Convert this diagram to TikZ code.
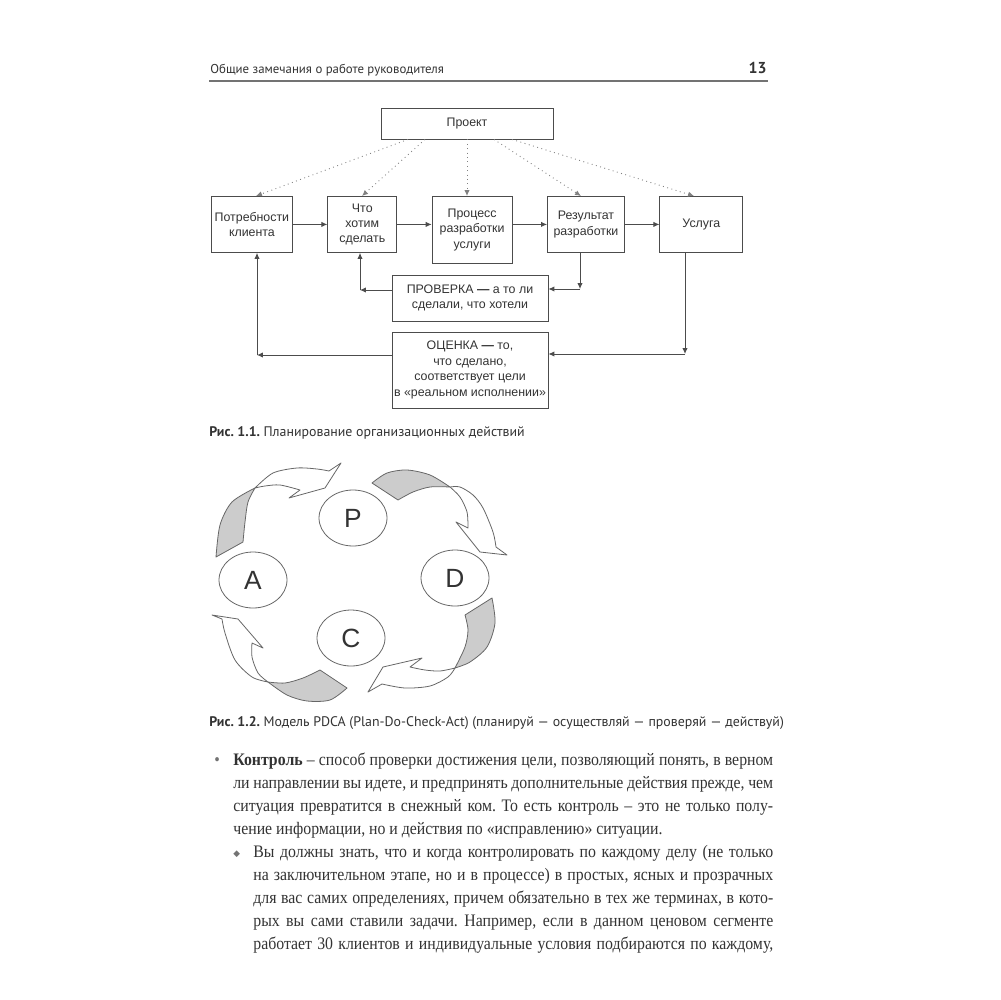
\documentclass[tikz,border=0pt]{standalone}
\usepackage{fontspec}
\setmainfont{Liberation Serif}[FakeStretch=0.9]
\newfontfamily\capfont{PT Sans}
\newfontfamily\diafont{Liberation Sans}
\newfontfamily\symfont{DejaVu Sans}
\usetikzlibrary{arrows.meta,positioning,shapes.geometric}
\definecolor{linegray}{gray}{0.3}
\definecolor{inkgray}{gray}{0.2}
\newlength\bodyw \setlength\bodyw{10.8cm}
\newlength\subw \setlength\subw{10.4cm}
\frenchspacing
\tikzset{
  box/.style={draw=linegray, line width=0.5pt, align=center, inner xsep=0.5pt, inner ysep=1pt, font=\diafont\fontsize{7.05}{8.8}\selectfont, text=inkgray},
  flow/.style={-{Latex[length=3.4pt,width=3pt]}, draw=linegray, line width=0.5pt},
  hint/.style={-{Latex[length=3.4pt,width=3pt]}, draw=black!50, dotted, line width=0.5pt},
  cyc/.style={ellipse, draw=black!60, line width=0.45pt, fill=white, minimum width=1.36cm, minimum height=1.12cm, inner sep=0, font=\diafont\fontsize{15}{15}\selectfont, text=inkgray},
  twistback/.style={draw=black!60, line width=0.45pt, fill=black!20, line join=round},
  twistfront/.style={draw=black!60, line width=0.45pt, fill=white, line join=round},
  capline/.style={anchor=base west, inner sep=0, font=\capfont\fontsize{7.9}{10}\selectfont, text=inkgray},
  bodyline/.style={anchor=base west, inner sep=0, font=\fontsize{10}{12}\selectfont, text=inkgray}
}
\begin{document}
\begin{tikzpicture}[x=0.02cm, y=-0.02cm]
\fill[white] (0,0) rectangle (1000,1000);
\useasboundingbox (0,0) rectangle (1000,1000);
% running head
\node[capline, font=\capfont\fontsize{7.3}{9}\selectfont] (head) at (210,74) {Общие замечания о работе руководителя};
\node[capline, anchor=base east, font=\capfont\bfseries\fontsize{9}{10}\selectfont] (folio) at (767,74) {13};
\draw[black!55, line width=0.7pt] (209,81) -- (768,81);
% fig 1.1
\node[box, minimum width=3.44cm, minimum height=0.62cm] (proj) at (467,123.5) {Проект};
\node[box, minimum width=1.62cm, minimum height=1.12cm, anchor=north west] (need) at (211,196) {Потребности\\клиента};
\node[box, minimum width=1.38cm, minimum height=1.12cm, right=0.69cm of need.north east, anchor=north west] (what) {Что\\хотим\\сделать};
\node[box, minimum width=1.6cm, minimum height=1.34cm, right=0.69cm of what.north east, anchor=north west] (proc) {Процесс\\разработки\\услуги};
\node[box, minimum width=1.54cm, minimum height=1.12cm, right=0.69cm of proc.north east, anchor=north west] (res) {Результат\\разработки};
\node[box, minimum width=1.66cm, minimum height=1.12cm, right=0.69cm of res.north east, anchor=north west] (usl) {Услуга};
\node[box, minimum width=3.12cm, minimum height=0.92cm] (chk) at (470,298) {ПРОВЕРКА {\bfseries —} а то ли\\сделали, что хотели};
\node[box, minimum width=3.12cm, minimum height=1.52cm] (eval) at (470,370) {ОЦЕНКА {\bfseries —} то,\\что сделано,\\соответствует цели\\в «реальном исполнении»};
\draw[hint] (408,0 |- proj.south) -- (256,0 |- need.north);
\draw[hint] (425,0 |- proj.south) -- (362,0 |- what.north);
\draw[hint] (proj.south) -- (proj.south |- proc.north);
\draw[hint] (494,0 |- proj.south) -- (581,0 |- res.north);
\draw[hint] (512,0 |- proj.south) -- (694,0 |- usl.north);
\draw[flow] (need) -- (what);
\draw[flow] (what.east) -- (what.east -| proc.west);
\draw[flow] (res.west -| proc.east) -- (res.west);
\draw[flow] (res) -- (usl);
\coordinate (rdn) at (580,289);
\draw[flow] (rdn |- res.south) -- (rdn);
\draw[flow] (rdn) -- (rdn -| chk.east);
\coordinate (wup) at (360,290);
\draw[flow] (wup -| chk.west) -- (wup);
\draw[flow] (wup) -- (wup |- what.south);
\coordinate (udn) at (685,354);
\draw[flow] (udn |- usl.south) -- (udn);
\draw[flow] (udn) -- (udn -| eval.east);
\coordinate (nup) at (257,355);
\draw[flow] (nup -| eval.west) -- (nup);
\draw[flow] (nup) -- (nup |- need.south);
\node[capline] (cap1) at (209,436) {\bfseries Рис. 1.1.\ \mdseries Планирование организационных действий};
% fig 1.2
\filldraw[twistback] plot[smooth] coordinates {(216,557) (220,525) (232,502) (255,488)} -- plot[smooth] coordinates {(255,488) (248,502) (245,522) (243,542)} -- cycle;
\filldraw[twistfront] plot[smooth] coordinates {(255,488) (273,473) (297,468) (317,469) (329,471)} -- (341,463) -- (325,488) -- (289,498) -- plot[smooth] coordinates {(300,490) (280,485) (265,486) (255,488)} -- cycle;
\filldraw[twistback] plot[smooth] coordinates {(372,483) (387,473) (407,470) (430,475) (450,487)} -- plot[smooth] coordinates {(450,487) (430,487) (413,492) (398,500)} -- cycle;
\filldraw[twistfront] plot[smooth] coordinates {(450,487) (460,497) (467,512) (468,528)} -- (456,522) -- (480,552) -- (507,555) -- plot[smooth] coordinates {(496,547) (493,532) (483,508) (473,495) (460,487) (450,487)} -- cycle;
\filldraw[twistback] plot[smooth] coordinates {(492,598) (495,623) (487,647) (470,662) (455,668)} -- plot[smooth] coordinates {(455,668) (465,647) (468,630) (465,615)} -- cycle;
\filldraw[twistfront] plot[smooth] coordinates {(455,668) (440,671) (425,670) (410,667)} -- (422,658) -- (383,667) -- (368,692) -- plot[smooth] coordinates {(382,684) (405,688) (430,686) (448,677) (455,668)} -- cycle;
\filldraw[twistback] plot[smooth] coordinates {(320,670) (303,678) (285,683) (268,682)} -- plot[smooth] coordinates {(268,682) (287,695) (307,701) (330,700) (347,688)} -- cycle;
\filldraw[twistfront] plot[smooth] coordinates {(268,682) (258,673) (252,657) (252,643)} -- (263,648) -- (238,619) -- (212,615) -- plot[smooth] coordinates {(222,619) (225,633) (235,660) (252,677) (268,682)} -- cycle;
\node[cyc] (plan) at (353,518) {P};
\node[cyc] (do) at (455,578) {D};
\node[cyc] (check) at (351,638) {C};
\node[cyc] (act) at (253,580) {A};
\node[capline] (cap2) at (209,726) {\bfseries Рис. 1.2.\ \mdseries Модель PDCA (Plan-Do-Check-Act) (планируй — осуществляй — проверяй — действуй)};
% text
\node[bodyline, font=\fontsize{10}{12}\selectfont, text=black!55] (dot1) at (214,765) {•};
\node[bodyline] (l1) at (233,765) {\makebox[\bodyw][s]{\textbf{Контроль} – способ проверки достижения цели, позволяющий понять, в верном}};
\node[bodyline] (l2) at (233,788) {\makebox[\bodyw][s]{ли направлении вы идете, и предпринять дополнительные действия прежде, чем}};
\node[bodyline] (l3) at (233,811) {\makebox[\bodyw][s]{ситуация превратится в снежный ком. То есть контроль – это не только полу-}};
\node[bodyline] (l4) at (233,834) {чение информации, но и действия по «исправлению» ситуации.};
\node[bodyline, font=\symfont\fontsize{5}{6}\selectfont, text=black!55] (dot2) at (233,856) {◆};
\node[bodyline] (l5) at (253,857) {\makebox[\subw][s]{Вы должны знать, что и когда контролировать по каждому делу (не только}};
\node[bodyline] (l6) at (253,880) {\makebox[\subw][s]{на заключительном этапе, но и в процессе) в простых, ясных и прозрачных}};
\node[bodyline] (l7) at (253,903) {\makebox[\subw][s]{для вас самих определениях, причем обязательно в тех же терминах, в кото-}};
\node[bodyline] (l8) at (253,926) {\makebox[\subw][s]{рых вы сами ставили задачи. Например, если в данном ценовом сегменте}};
\node[bodyline] (l9) at (253,949) {\makebox[\subw][s]{работает 30 клиентов и индивидуальные условия подбираются по каждому,}};
\end{tikzpicture}
\end{document}
